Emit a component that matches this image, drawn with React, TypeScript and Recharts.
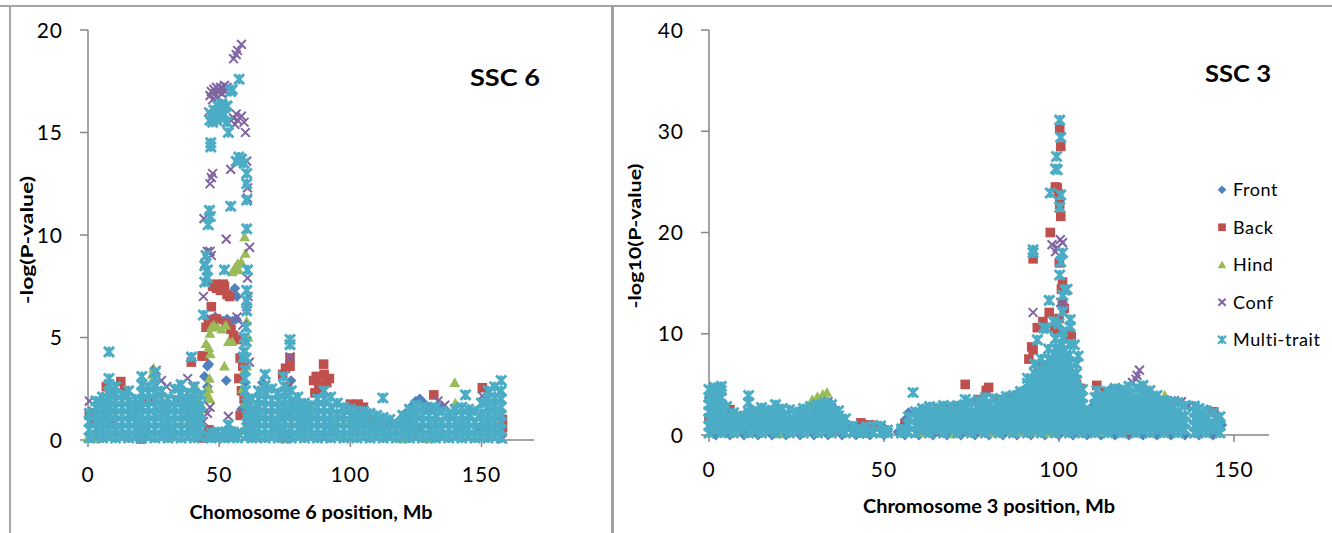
import React from "react";
import { ScatterChart, Scatter, XAxis, YAxis, Legend } from "recharts";

type Pt = [number, number];

const SERIES_NAMES = ["Front", "Back", "Hind", "Conf", "Multi-trait"];
const X_TICKS = [0, 50, 100, 150];
const Y_TICKS_SSC6 = [0, 5, 10, 15, 20];
const Y_TICKS_SSC3 = [0, 10, 20, 30, 40];

const COLORS = ["#4F81BD", "#C0504D", "#9BBB59", "#8064A2", "#4BACC6"];
const AXIS_GREY = "#868686";
const FONT = "Lato, 'Open Sans', sans-serif";

// ---------- SSC 6 (left panel), [position Mb, -log(P)] ----------
const front6: Pt[] = [
  [56, 7.4], [56.8, 7.0], [45.5, 5.9], [47, 5.9], [48.5, 6.0], [50, 5.9], [51.5, 5.8], [53, 5.9], [55, 5.8], [56.5, 5.9],
  [45.5, 3.6], [44.4, 3.1], [52.7, 2.9], [45.5, 2.6], [46, 3.7], [77.4, 2.9], [66.5, 2.8], [125, 1.9], [126.5, 2.0],
  [128, 1.8], [123, 1.6], [121, 1.3], [119, 1.0], [130, 1.6], [134, 1.7], [58.5, 1.5], [60, 2.8], [53.5, 0.6],
  [54.5, 0.5], [40, 1.8], [20, 1.5], [75, 1.2], [100, 1.0], [145, 1.4], [150, 0.5],
];

const back6: Pt[] = [
  [47.5, 7.5], [48.5, 7.6], [49, 7.4], [50.5, 7.3], [51.5, 7.6], [52, 7.5], [53, 7.1], [54, 7.0], [47, 6.5],
  [45, 5.5], [46, 5.8], [47.5, 5.6], [49, 5.9], [52.5, 5.7], [54.5, 5.4], [55.5, 5.1], [44, 4.1], [43.5, 4.1], [39.4, 3.8],
  [57, 4.9], [58, 4.0], [59, 3.6], [57.5, 3.0], [58.5, 2.4], [59.5, 2.0], [60.5, 1.6], [58, 1.2],
  [77, 3.6], [77, 4.0], [74.2, 3.2], [75.3, 3.5], [76, 2.6],
  [89.8, 3.7], [86, 2.9], [87, 3.1], [88, 2.7], [90, 3.2], [91, 2.8], [92, 3.0], [89, 2.5], [86.5, 2.3],
  [105, 1.6], [100, 1.75], [103, 1.75], [131.8, 2.2], [150.3, 2.55], [108, 1.0],
  [7, 2.6], [8.5, 2.3], [12.5, 2.85], [14, 2.4], [2, 1.0], [0.5, 1.2], [30, 1.5], [23, 2.0],
  [45, 0.3], [46, 0.5], [44, 0.1], [47.5, 0.2], [20, 0.05], [62, 0.3], [61, 1.0], [158, 0.6], [158, 1.0], [115, 0.8], [125, 0.5],
];

const hind6: Pt[] = [
  [59.7, 9.9], [60, 9.1], [55, 8.2], [56, 8.4], [57, 8.6], [58.4, 8.7], [57.5, 8.3],
  [45, 4.7], [46.5, 5.2], [47, 5.5], [48, 5.6], [49.5, 5.5], [51, 5.4], [52.5, 5.6], [53.5, 4.8], [55, 4.8], [46, 4.5],
  [46.6, 4.2], [52, 3.6], [46.3, 3.0], [45.5, 2.2], [46, 2.5], [46.5, 2.0], [45, 2.4], [44, 1.5],
  [60.5, 5.8], [61, 5.0], [60.5, 3.6], [59.5, 3.4], [59, 2.5], [60, 1.8], [61, 1.3],
  [54, 0.5], [56, 0.4], [57, 0.45], [55, 0.3],
  [139.8, 2.8], [140, 1.8], [25, 3.5], [24.5, 3.2], [36, 2.0], [41, 2.6], [40.5, 2.3], [42, 1.9],
  [0, 0.1], [3, 0.05], [31, 0.1], [62, 0.1], [130, 0.05], [132, 0.1], [75, 0.05], [120, 0.05],
];

const conf6: Pt[] = [
  [55.5, 18.6], [56.5, 18.8], [57, 19.0], [58.5, 19.3],
  [46.5, 16.8], [47, 17.0], [47.5, 16.6], [48, 17.1], [48.5, 16.9], [49, 17.2], [49.5, 16.7], [50, 17.0], [50.5, 17.2],
  [51, 16.9], [51.5, 17.1], [52, 17.3], [52.5, 17.0], [53, 17.2], [46, 16.0],
  [55.5, 15.7], [56, 15.4], [57, 15.6], [58.5, 15.8], [59.5, 15.5], [60, 15.0], [56.5, 15.9],
  [54.4, 13.2], [60.8, 12.3], [60.8, 11.8], [60.5, 13.6], [47.5, 13.0], [46.5, 12.5], [47, 12.8],
  [44.2, 10.8], [52.7, 9.8], [61.6, 9.4], [45.5, 9.2], [46.5, 9.2], [47, 9.0], [44.5, 8.6], [44, 7.0],
  [60.8, 7.9], [61, 7.0], [60.5, 6.5], [56.8, 6.0], [59, 5.6], [60.5, 4.8], [61.5, 3.8],
  [39.4, 4.0], [38, 3.0], [40, 2.6], [53.5, 1.15], [46.5, 1.6], [45.5, 1.3],
  [0.5, 1.9], [2, 1.4], [26, 3.4], [28, 2.9], [30, 2.6], [35, 1.8], [41, 1.5], [44, 0.9], [77, 4.05],
  [74, 0.2], [75, 0.3], [76, 0.15], [75.5, 0.05], [73.5, 0.25], [133.4, 1.9], [150.3, 2.15], [136, 1.7],
  [116, 0.3], [100, 0.2], [20, 0.1], [10, 0.8], [62, 0.5], [64, 0.1], [158, 0.05], [125, 0.15], [90, 0.1],
];

const multi6: Pt[] = [
  [0.5, 0.1], [0.5, 0.5], [0.5, 0.9], [0.5, 1.3],
  [3, 0.2], [3, 0.55], [3, 0.9], [3, 1.25], [3, 1.6], [3, 1.9],
  [5.5, 0.1], [5.5, 0.45], [5.5, 0.8], [5.5, 1.15], [5.5, 1.5], [5.5, 1.8], [5.5, 2.1],
  [8, 0.2], [8, 0.55], [8, 0.9], [8, 1.3], [8, 1.65], [8, 2.0], [8, 2.35], [8, 2.7], [8, 3.0], [8, 4.3],
  [10.5, 0.1], [10.5, 0.45], [10.5, 0.85], [10.5, 1.2], [10.5, 1.55], [10.5, 1.9], [10.5, 2.25], [10.5, 2.6],
  [13, 0.2], [13, 0.55], [13, 0.9], [13, 1.25], [13, 1.6], [13, 1.95], [13, 2.2],
  [15.5, 0.1], [15.5, 0.5], [15.5, 0.85], [15.5, 1.2], [15.5, 1.55], [15.5, 1.9], [15.5, 2.4],
  [18, 0.2], [18, 0.55], [18, 0.9], [18, 1.3], [18, 1.65], [18, 2.0],
  [20.5, 0.1], [20.5, 0.45], [20.5, 0.8], [20.5, 1.2], [20.5, 1.55], [20.5, 1.9], [20.5, 2.3], [20.5, 2.7], [20.5, 3.1],
  [23, 0.2], [23, 0.55], [23, 0.9], [23, 1.25], [23, 1.6], [23, 1.95], [23, 2.3], [23, 2.6],
  [25.5, 0.1], [25.5, 0.5], [25.5, 0.85], [25.5, 1.2], [25.5, 1.6], [25.5, 1.95], [25.5, 2.3], [25.5, 2.7], [25.5, 3.0], [25.5, 3.3],
  [28, 0.2], [28, 0.55], [28, 0.9], [28, 1.3], [28, 1.7], [28, 2.05], [28, 2.4],
  [30.5, 0.1], [30.5, 0.45], [30.5, 0.8], [30.5, 1.2], [30.5, 1.6], [30.5, 2.0],
  [33, 0.2], [33, 0.55], [33, 0.9], [33, 1.25], [33, 1.6], [33, 1.95], [33, 2.5],
  [35.5, 0.1], [35.5, 0.5], [35.5, 0.85], [35.5, 1.2], [35.5, 1.55], [35.5, 1.9], [35.5, 2.3], [35.5, 2.7],
  [38, 0.2], [38, 0.55], [38, 0.9], [38, 1.3], [38, 1.65], [38, 2.0], [38, 2.3], [39.4, 4.05],
  [40.5, 0.1], [40.5, 0.45], [40.5, 0.8], [40.5, 1.15], [40.5, 1.5], [40.5, 1.9], [40.5, 2.25], [40.5, 2.6],
  [43, 0.2], [43, 0.55], [43, 0.9], [43, 1.3], [43, 1.7], [43, 2.2],
  [45.5, 0.15], [47, 0.1], [47, 0.35], [49.5, 0.15], [49.5, 0.4], [52, 0.1], [52, 0.35], [53.5, 0.75],
  [54.5, 0.15], [54.5, 0.4], [57, 0.1], [57, 0.35],
  [44, 6.1], [44.5, 7.7], [44.5, 8.5], [45, 9.0], [45.5, 7.9], [45.5, 8.3], [45.8, 10.5], [46.3, 11.2], [46.6, 10.9],
  [46.8, 14.3], [46.8, 14.5], [46.5, 15.6], [46.8, 15.9], [47.5, 15.5], [47.5, 15.8], [48, 16.1], [49, 15.6], [49, 16.0],
  [49.5, 16.3], [50.5, 15.7], [50.5, 16.1], [51, 16.4], [52, 15.9], [52, 16.2], [52, 8.3], [53, 15.5], [53, 16.3],
  [53.5, 15.0], [54.4, 17.0], [54.4, 11.4], [55, 17.1], [57.6, 17.6], [56.5, 13.6], [57.5, 13.8], [58.5, 13.7],
  [59.5, 13.5], [60.5, 13.0], [60.5, 12.5], [60.5, 11.7], [60.5, 10.3], [60.8, 8.3], [60.5, 7.3], [60.5, 6.8],
  [60.5, 6.3], [60.3, 5.5], [60.3, 4.8], [60.3, 4.0], [60, 3.4], [59.5, 4.3], [59.5, 5.0], [59.8, 3.0], [60, 2.4],
  [59.2, 4.05], [60.5, 1.8], [60.5, 1.2], [60.5, 0.6], [60.5, 0.2], [61, 2.0], [61, 1.4], [61, 0.8], [61, 0.3],
  [62.5, 0.1], [62.5, 0.45], [62.5, 0.8], [62.5, 1.15], [62.5, 1.5], [62.5, 2.0],
  [65, 0.2], [65, 0.55], [65, 0.9], [65, 1.3], [65, 1.65], [65, 2.0], [65, 2.4],
  [67.5, 0.1], [67.5, 0.5], [67.5, 0.85], [67.5, 1.2], [67.5, 1.6], [67.5, 1.95], [67.5, 2.3], [67.5, 2.65], [67.5, 3.2],
  [70, 0.2], [70, 0.55], [70, 0.9], [70, 1.25], [70, 1.6], [70, 1.95], [70, 2.5],
  [72.5, 0.1], [72.5, 0.45], [72.5, 0.8], [72.5, 1.2], [72.5, 1.55], [72.5, 1.9], [72.5, 2.3],
  [75, 0.2], [75, 0.55], [75, 0.9], [75, 1.3], [75, 1.65], [75, 2.0], [75, 2.35], [75, 2.6], [74.5, 3.1],
  [77.5, 0.1], [77.5, 0.5], [77.5, 0.85], [77.5, 1.2], [77.5, 1.55], [77.5, 1.9], [77.5, 2.4], [77, 4.65], [77, 4.9],
  [80, 0.2], [80, 0.55], [80, 0.9], [80, 1.3], [80, 1.7], [80, 2.1],
  [82.5, 0.1], [82.5, 0.45], [82.5, 0.8], [82.5, 1.15], [82.5, 1.5], [82.5, 1.8],
  [85, 0.2], [85, 0.55], [85, 0.9], [85, 1.3], [85, 1.7],
  [87.5, 0.1], [87.5, 0.5], [87.5, 0.85], [87.5, 1.2], [87.5, 1.6], [87.5, 2.0],
  [90, 0.2], [90, 0.55], [90, 0.9], [90, 1.25], [90, 1.6], [90, 2.0], [90, 2.4],
  [92.5, 0.1], [92.5, 0.45], [92.5, 0.8], [92.5, 1.2], [92.5, 1.6], [92.5, 2.1],
  [95, 0.2], [95, 0.55], [95, 0.9], [95, 1.3], [95, 1.8],
  [97.5, 0.1], [97.5, 0.5], [97.5, 0.85], [97.5, 1.2], [97.5, 1.6],
  [100, 0.2], [100, 0.55], [100, 0.9], [100, 1.2], [100, 1.5],
  [102.5, 0.1], [102.5, 0.45], [102.5, 0.8], [102.5, 1.1], [102.5, 1.4],
  [105, 0.2], [105, 0.55], [105, 0.9], [105, 1.15], [105, 1.4],
  [107.5, 0.1], [107.5, 0.45], [107.5, 0.8], [107.5, 1.3],
  [110, 0.2], [110, 0.55], [110, 0.9], [110, 1.2],
  [112.5, 0.1], [112.5, 0.45], [112.5, 0.8], [112.5, 1.1], [112.4, 2.05],
  [115, 0.2], [115, 0.55], [115, 1.0],
  [117.5, 0.1], [117.5, 0.45], [117.5, 0.8],
  [120, 0.2], [120, 0.55], [120, 0.9], [120, 1.2],
  [122.5, 0.1], [122.5, 0.45], [122.5, 0.8], [122.5, 1.15], [122.5, 1.5],
  [125, 0.2], [125, 0.55], [125, 0.9], [125, 1.3], [125, 1.7],
  [127.5, 0.1], [127.5, 0.5], [127.5, 0.85], [127.5, 1.2], [127.5, 1.6],
  [130, 0.2], [130, 0.55], [130, 0.9], [130, 1.2], [130, 1.5],
  [132.5, 0.1], [132.5, 0.45], [132.5, 0.8], [132.5, 1.2], [132.5, 1.6],
  [135, 0.2], [135, 0.55], [135, 0.9], [135, 1.4],
  [137.5, 0.1], [137.5, 0.5], [137.5, 0.85], [137.5, 1.3],
  [140, 0.2], [140, 0.55], [140, 0.9], [140, 1.2], [140, 1.5],
  [142.5, 0.1], [142.5, 0.45], [142.5, 0.8], [142.5, 1.2], [142.5, 1.6], [143.9, 2.2],
  [145, 0.2], [145, 0.55], [145, 0.9], [145, 1.2], [145, 1.5],
  [147.5, 0.1], [147.5, 0.5], [147.5, 0.85], [147.5, 1.4],
  [150, 0.2], [150, 0.55], [150, 0.9], [150, 1.3], [150, 1.8],
  [152.5, 0.1], [152.5, 0.45], [152.5, 0.8], [152.5, 1.2], [152.5, 1.6], [152.5, 2.0], [152.5, 2.4],
  [155, 0.2], [155, 0.55], [155, 0.9], [155, 1.3], [155, 1.7], [155, 2.1], [155, 2.6],
  [157.5, 0.1], [157.5, 0.5], [157.5, 0.85], [157.5, 1.2], [157.5, 1.6], [157.5, 2.0], [157.5, 2.4], [157.5, 2.9],
];

// ---------- SSC 3 (right panel), [position Mb, -log10(P)] ----------
const front3: Pt[] = [
  [2, 0], [6, 0], [10, 0], [14, 0], [18, 0], [22, 0], [26, 0], [30, 0], [34, 0], [38, 0], [42, 0], [46, 0], [50, 0],
  [56, 0], [60, 0], [64, 0], [68, 0], [72, 0], [76, 0], [80, 0], [84, 0], [88, 0], [92, 0], [96, 0], [100, 0],
  [104, 0], [108, 0], [112, 0], [116, 0], [120, 0], [124, 0], [128, 0], [132, 0], [136, 0], [140, 0], [144, 0],
  [0, 3.7], [0.3, 3.8], [0.5, 3.5], [1, 3.0], [116.3, 4.5], [114.4, 4.4], [117, 4.6], [118, 4.3], [142.4, 2.5],
  [102.3, 3.0], [101, 3.2], [97, 6.8], [99, 7.0], [35, 3.0], [36, 2.5], [37, 2.0], [38, 1.6], [39, 1.2], [40, 0.8],
  [41, 0.5], [42, 0.3], [47, 0.9], [48, 1.0], [49, 0.9], [50, 0.7], [51, 0.4], [54, 0.3], [55, 0.8], [56, 1.5],
  [57, 2.2], [146, 1.5], [146.5, 1.0], [145, 2.0], [126, 4.0], [127, 3.6], [112, 3.5], [110, 3.0], [20, 2.6], [15, 2.5],
];

const back3: Pt[] = [
  [100.2, 30.2], [100.5, 28.5], [99, 24.5], [99.5, 24.4], [99.9, 23.8], [100.2, 22.8], [100.5, 21.6], [97.5, 20.0],
  [92.6, 17.4], [100.1, 17.0], [101, 15.1], [100.7, 14.4], [97.2, 12.1], [95.4, 11.2], [93.8, 10.6], [103, 10.0],
  [103.5, 9.7], [98.7, 10.7], [99.5, 10.4], [92.2, 8.7], [92.6, 8.4], [95.4, 6.7], [91.4, 7.5], [101, 13.0],
  [101.5, 12.5], [100, 11.5], [102, 7.0], [104, 6.0], [96, 5.5], [94, 4.5], [105, 5.0], [106, 4.6],
  [110.8, 4.9], [113.2, 4.2], [73.2, 5.0], [79.9, 4.7], [79.2, 4.4], [76.8, 3.5], [64, 2.3], [66, 2.6], [68, 2.5],
  [70, 2.7], [72, 2.4], [62, 2.2], [43.4, 1.2], [46, 1.0], [48, 0.9], [0, 1.7], [0.5, 1.3], [144.2, 2.3], [83, 3.5],
  [86, 3.7], [88, 3.9], [90, 4.1], [56, 1.0], [38, 1.0], [108, 2.0], [11, 2.0], [6, 2.5], [36, 0.5], [120, 0.3], [130, 0.5],
];

const hind3: Pt[] = [
  [29.5, 3.5], [31, 3.8], [32.5, 4.0], [33.7, 4.2], [30.5, 3.2], [28, 2.5], [27, 2.3], [26, 2.0], [8, 2.0], [9, 1.8], [10, 1.9],
  [94, 0.3], [94, 1.0], [95, 1.6], [96, 0.3], [96, 1.0], [96, 1.7], [97, 0.2], [97, 0.9], [97, 1.6], [97.5, 2.2],
  [98, 0.3], [98, 1.0], [98, 1.8], [99, 0.2], [99, 0.9], [99, 1.6], [99.5, 2.0], [96.5, 2.3], [98.5, 2.4],
  [130.2, 3.9], [87, 0.5], [88, 0.3], [91, 0.4], [112, 0.3], [80, 0.2], [20, 0.1], [60, 0.2], [70, 0.1],
];

const conf3: Pt[] = [
  [100.4, 19.3], [98, 18.8], [99, 18.1], [101, 19.0], [99.5, 18.5], [92.6, 12.1], [100.5, 13.1], [101, 12.8],
  [96, 5.5], [97, 6.0], [98, 6.8], [99, 7.5], [100, 8.0], [101.5, 7.0], [102, 6.2], [103, 5.0], [104, 4.2], [95, 4.0],
  [93, 5.0], [94, 6.3], [100, 4.5], [102, 3.0], [106, 3.5], [107, 2.0], [109, 1.8], [111, 2.4],
  [123, 6.4], [122.3, 5.9], [121, 5.2], [122, 5.5], [124, 4.5], [129.6, 3.4], [131, 3.3], [133, 3.4], [135, 3.3],
  [137, 2.9], [126, 3.8], [0.5, 0.3], [1, 0.6], [3, 3.0], [4, 2.6], [10, 1.8], [20, 1.9], [22, 2.0], [30, 2.4],
  [32, 3.0], [34, 3.3], [45, 0.3], [60, 0.5], [80, 3.0], [85, 1.0], [90, 0.5], [95, 0.3], [115, 0.5], [140, 0.4],
  [145, 0.2], [65, 0.2], [75, 0.4], [86, 0.6],
];

const multi3: Pt[] = [
  [0, 0.2], [0, 0.9], [0, 1.6], [0, 2.3], [0, 3.0], [0, 3.7], [0, 4.5],
  [1.5, 0.5], [1.5, 1.2], [1.5, 1.9], [1.5, 2.6], [1.5, 3.3], [1.5, 4.0], [1.5, 4.7],
  [3.5, 0.2], [3.5, 0.9], [3.5, 1.6], [3.5, 2.3], [3.5, 3.0], [3.5, 3.7], [3.5, 4.4], [3.5, 4.8],
  [5, 0.5], [5, 1.2], [5, 1.9], [5, 2.8], [7, 0.2], [7, 0.9], [7, 1.6], [7, 2.2], [9, 0.5], [9, 1.2], [9, 1.9],
  [11.3, 0.2], [11.3, 0.9], [11.3, 1.6], [11.3, 2.3], [11.3, 3.2], [11.3, 3.9],
  [13, 0.5], [13, 1.2], [13, 1.9], [13, 2.4], [15, 0.2], [15, 0.9], [15, 1.6], [15, 2.3], [15, 2.7],
  [17, 0.5], [17, 1.2], [17, 1.9], [17, 2.5], [19, 0.2], [19, 0.9], [19, 1.6], [19, 2.3], [19, 3.0],
  [21, 0.5], [21, 1.2], [21, 1.9], [21, 2.6], [23, 0.2], [23, 0.9], [23, 1.6], [23, 2.5],
  [25, 0.5], [25, 1.2], [25, 1.9], [25, 2.3], [27, 0.2], [27, 0.9], [27, 1.6], [27, 2.3], [27, 2.6],
  [29, 0.5], [29, 1.2], [29, 1.9], [29, 2.8], [31, 0.2], [31, 0.9], [31, 1.6], [31, 2.3], [31, 3.0],
  [33, 0.5], [33, 1.2], [33, 1.9], [33, 2.6], [33, 3.2], [35, 0.2], [35, 0.9], [35, 1.6], [35, 2.3], [35, 3.0],
  [37, 0.5], [37, 1.2], [37, 1.9], [37, 2.4], [39, 0.2], [39, 0.9], [39, 1.6], [41, 0.3], [41, 0.9],
  [43, 0.2], [43, 0.6], [45, 0.2], [45, 0.8], [47, 0.3], [47, 0.9], [49, 0.2], [49, 0.9], [51, 0.2], [51, 0.5],
  [55, 0.2], [55, 0.6], [57, 0.3], [57, 1.0], [57, 1.8], [58.3, 4.2],
  [59, 0.2], [59, 0.9], [59, 1.6], [59, 2.3], [61, 0.5], [61, 1.2], [61, 1.9], [61, 2.6],
  [63, 0.2], [63, 0.9], [63, 1.6], [63, 2.3], [63, 2.8], [65, 0.5], [65, 1.2], [65, 1.9], [65, 2.7],
  [67, 0.2], [67, 0.9], [67, 1.6], [67, 2.3], [67, 2.9], [69, 0.5], [69, 1.2], [69, 1.9], [69, 2.8],
  [71, 0.2], [71, 0.9], [71, 1.6], [71, 2.3], [71, 2.9], [73, 0.5], [73, 1.2], [73, 1.9], [73, 2.6], [73, 3.0], [73.2, 3.5],
  [75, 0.2], [75, 0.9], [75, 1.6], [75, 2.3], [75, 3.2], [77, 0.5], [77, 1.2], [77, 1.9], [77, 2.6], [77, 3.4],
  [79, 0.2], [79, 0.9], [79, 1.6], [79, 2.3], [79, 3.0], [79, 3.7], [81, 0.5], [81, 1.2], [81, 1.9], [81, 2.6], [81, 3.6],
  [83, 0.2], [83, 0.9], [83, 1.6], [83, 2.3], [83, 3.0], [83, 3.5], [85, 0.5], [85, 1.2], [85, 1.9], [85, 2.6], [85, 3.3], [85, 3.8],
  [87, 0.2], [87, 0.9], [87, 1.6], [87, 2.3], [87, 3.0], [87, 3.9],
  [89, 0.5], [89, 1.2], [89, 1.9], [89, 2.6], [89, 3.3], [89, 4.0], [89, 4.3],
  [91, 0.2], [91, 0.9], [91, 1.6], [91, 2.3], [91, 3.0], [91, 3.7], [91, 4.4], [91, 5.1], [91, 5.6],
  [93, 0.5], [93, 1.2], [93, 1.9], [93, 2.6], [93, 3.3], [93, 4.0], [93, 4.7], [93, 5.4], [93, 6.1], [93, 7.0],
  [92.6, 18.3], [92.6, 18.0], [93.8, 9.4],
  [95, 0.2], [95, 0.9], [95, 1.6], [95, 2.3], [95, 3.0], [95, 3.7], [95, 4.4], [95, 5.1], [95, 5.8], [95, 6.5], [95, 7.5], [95.6, 10.6],
  [97, 0.5], [97, 1.2], [97, 1.9], [97, 2.6], [97, 3.3], [97, 4.0], [97, 4.7], [97, 5.4], [97, 6.1], [97, 6.8], [97, 7.5], [97, 8.5],
  [97.2, 13.3], [97.5, 23.9], [96.5, 10.5],
  [99, 0.2], [99, 0.9], [99, 1.6], [99, 2.3], [99, 3.0], [99, 3.7], [99, 4.4], [99, 5.1], [99, 5.8], [99, 6.5], [99, 7.2],
  [99, 7.9], [99, 8.6], [99, 9.5], [99.3, 27.5], [99, 26.3], [99.5, 26.2], [98.5, 11.2],
  [101, 0.5], [101, 1.2], [101, 1.9], [101, 2.6], [101, 3.3], [101, 4.0], [101, 4.7], [101, 5.4], [101, 6.1], [101, 6.8],
  [101, 7.5], [101, 8.2], [101, 8.9], [101, 9.6], [101, 10.2], [100.2, 31.1], [100.5, 29.4], [100.5, 23.7], [100.2, 22.5],
  [101, 18.0], [100.5, 17.1], [100.2, 15.8], [101.7, 14.3], [102.3, 14.4], [101.1, 13.8], [101.1, 12.2], [100, 11.0],
  [103, 0.2], [103, 0.9], [103, 1.6], [103, 2.3], [103, 3.0], [103, 3.7], [103, 4.4], [103, 5.1], [103, 5.8], [103, 6.5],
  [103, 7.2], [103, 7.9], [103, 9.0], [103.2, 11.4], [103.2, 10.7], [104.4, 8.9],
  [105, 0.5], [105, 1.2], [105, 1.9], [105, 2.6], [105, 3.3], [105, 4.0], [105, 4.7], [105, 5.4], [105, 6.1], [105, 7.0], [105.5, 7.8],
  [106.7, 0.2], [106.7, 0.9], [106.7, 1.6], [106.7, 2.3], [106.7, 3.0], [106.7, 3.7], [106.7, 4.5],
  [108.5, 0.5], [108.5, 1.2], [108.5, 1.9], [108.5, 2.5],
  [110.3, 0.2], [110.3, 0.9], [110.3, 1.6], [110.3, 2.3], [110.3, 3.0], [110.3, 3.7], [110.8, 4.4],
  [112, 0.5], [112, 1.2], [112, 1.9], [112, 2.6], [112, 3.3], [112, 3.9],
  [114, 0.2], [114, 0.9], [114, 1.6], [114, 2.3], [114, 3.0], [114, 3.7], [114, 4.3],
  [116, 0.5], [116, 1.2], [116, 1.9], [116, 2.6], [116, 3.3], [116, 4.0], [116, 4.6],
  [118, 0.2], [118, 0.9], [118, 1.6], [118, 2.3], [118, 3.0], [118, 3.7], [118, 4.5],
  [120, 0.5], [120, 1.2], [120, 1.9], [120, 2.6], [120, 3.3], [120, 4.0], [120, 4.8],
  [122, 0.2], [122, 0.9], [122, 1.6], [122, 2.3], [122, 3.0], [122, 3.7], [122, 4.6],
  [124, 0.5], [124, 1.2], [124, 1.9], [124, 2.6], [124, 3.3], [124, 4.0], [124, 4.9],
  [126, 0.2], [126, 0.9], [126, 1.6], [126, 2.3], [126, 3.0], [126, 3.7], [126, 4.4],
  [128, 0.5], [128, 1.2], [128, 1.9], [128, 2.6], [128, 3.3], [128, 3.9],
  [130, 0.2], [130, 0.9], [130, 1.6], [130, 2.3], [130, 3.0], [130, 3.4],
  [132, 0.5], [132, 1.2], [132, 1.9], [132, 2.6], [132, 3.3], [134, 0.2], [134, 0.9], [134, 1.6], [134, 2.3], [134, 3.2],
  [136, 0.5], [136, 1.2], [136, 1.9], [136, 2.9], [138.7, 0.2], [138.7, 0.9], [138.7, 1.6], [138.7, 2.3], [138.7, 2.85],
  [140, 0.5], [140, 1.2], [140, 1.9], [140, 2.6], [142, 0.2], [142, 0.9], [142, 1.6], [142, 2.4],
  [144, 0.5], [144, 1.2], [144, 2.2], [146, 0.2], [146, 0.9], [146, 1.8],
];

const toRows = (pts: Pt[]) => pts.map(([x, y]) => ({ x, y }));

// ---------- marker shapes (k scales the marker, legend uses smaller ones) ----------
function Diamond({ cx, cy, fill, k = 1 }: any) {
  const r = 5.4 * k;
  return <path d={`M${cx},${cy - r}L${cx + r},${cy}L${cx},${cy + r}L${cx - r},${cy}Z`} fill={fill} />;
}
function Square({ cx, cy, fill, k = 1 }: any) {
  const r = 4.8 * k;
  return <rect x={cx - r} y={cy - r} width={2 * r} height={2 * r} fill={fill} />;
}
function Triangle({ cx, cy, fill, k = 1 }: any) {
  const r = 5.4 * k;
  return <path d={`M${cx},${cy - r}L${cx + r},${cy + r * 0.8}L${cx - r},${cy + r * 0.8}Z`} fill={fill} />;
}
function Cross({ cx, cy, fill, k = 1 }: any) {
  const r = 4.4 * k;
  return (
    <path
      d={`M${cx - r},${cy - r}L${cx + r},${cy + r}M${cx + r},${cy - r}L${cx - r},${cy + r}`}
      stroke={fill}
      strokeWidth={2}
      fill="none"
    />
  );
}
function Star({ cx, cy, fill, k = 1 }: any) {
  const r = 5 * k;
  return (
    <path
      d={`M${cx - r},${cy - r}L${cx + r},${cy + r}M${cx + r},${cy - r}L${cx - r},${cy + r}M${cx},${cy - r}L${cx},${cy + r}`}
      stroke={fill}
      strokeWidth={k < 1 ? 2.2 : 3}
      fill="none"
    />
  );
}
const SHAPES = [Diamond, Square, Triangle, Cross, Star];

function XTick({ x, y, payload }: any) {
  return (
    <text x={x} y={y} dy={15} textAnchor="middle" fontFamily={FONT} fontSize={21} letterSpacing={1} fill="#000">
      {payload.value}
    </text>
  );
}
function YTick({ x, y, payload }: any) {
  return (
    <text x={x} y={y} dy={7.5} textAnchor="end" fontFamily={FONT} fontSize={21} letterSpacing={1} fill="#000">
      {payload.value}
    </text>
  );
}

function LegendBox() {
  return (
    <svg width={130} height={190}>
      {SERIES_NAMES.map((name, i) => {
        const Shape = SHAPES[i];
        const cy = 18.75 + i * 37.5;
        return (
          <g key={name}>
            <Shape cx={8} cy={cy} fill={COLORS[i]} k={0.8} />
            <text x={19} y={cy + 6.4} fontFamily={FONT} fontSize={18} letterSpacing={0.6} fill="#000">
              {name}
            </text>
          </g>
        );
      })}
    </svg>
  );
}

interface PanelProps {
  width: number;
  yAxisWidth: number;
  xAxisHeight: number;
  rightMargin: number;
  xMax: number;
  yMax: number;
  yTicks: number[];
  series: Pt[][];
  xTitle: string;
  yTitle: string;
  tag: string;
  titles: {
    x: [number, number, number];
    y: [number, number, number];
    tag: [number, number, number];
  };
  legend?: boolean;
}

function Panel(p: PanelProps) {
  return (
    <ScatterChart
      width={p.width}
      height={533}
      margin={{ top: 30, right: p.rightMargin, bottom: 0, left: 0 }}
    >
      <XAxis
        type="number"
        dataKey="x"
        domain={[0, p.xMax]}
        ticks={X_TICKS}
        interval={0}
        height={p.xAxisHeight}
        axisLine={{ stroke: AXIS_GREY, strokeWidth: 1.5 }}
        tickLine={{ stroke: AXIS_GREY, strokeWidth: 1.5 }}
        tickSize={7}
        tickMargin={20}
        tick={<XTick />}
      />
      <YAxis
        type="number"
        dataKey="y"
        domain={[0, p.yMax]}
        ticks={p.yTicks}
        interval={0}
        width={p.yAxisWidth}
        axisLine={{ stroke: AXIS_GREY, strokeWidth: 1.5 }}
        tickLine={{ stroke: AXIS_GREY, strokeWidth: 1.5 }}
        tickSize={8}
        tickMargin={17}
        tick={<YTick />}
      />
      {p.series.map((pts, i) => (
        <Scatter
          key={SERIES_NAMES[i]}
          name={SERIES_NAMES[i]}
          data={toRows(pts)}
          fill={COLORS[i]}
          shape={SHAPES[i]}
          isAnimationActive={false}
        />
      ))}
      {p.legend && (
        <Legend
          layout="horizontal"
          align="center"
          verticalAlign="middle"
          content={() => <LegendBox />}
          wrapperStyle={{ left: 600, top: 171, width: 130 }}
        />
      )}
      <text
        x={p.titles.x[0]}
        y={p.titles.x[1]}
        textAnchor="middle"
        textLength={p.titles.x[2]}
        lengthAdjust="spacingAndGlyphs"
        fontFamily={FONT}
        fontWeight={700}
        fontSize={18}
        fill="#000"
      >
        {p.xTitle}
      </text>
      <text
        transform={`translate(${p.titles.y[0]},${p.titles.y[1]}) rotate(-90)`}
        textAnchor="middle"
        textLength={p.titles.y[2]}
        lengthAdjust="spacingAndGlyphs"
        fontFamily={FONT}
        fontWeight={700}
        fontSize={17}
        fill="#000"
      >
        {p.yTitle}
      </text>
      <text
        x={p.titles.tag[0]}
        y={p.titles.tag[1]}
        textAnchor="middle"
        textLength={p.titles.tag[2]}
        lengthAdjust="spacingAndGlyphs"
        fontFamily={FONT}
        fontWeight={700}
        fontSize={22}
        fill="#000"
      >
        {p.tag}
      </text>
    </ScatterChart>
  );
}

export default function App() {
  return (
    <div style={{ position: "absolute", left: 0, top: 0, width: 1332, height: 533, background: "#fff", overflow: "hidden" }}>
      <div style={{ position: "absolute", left: 0, top: 5, width: 1332, height: 2, background: "#a6a6a6" }} />
      <div style={{ position: "absolute", left: 9, top: 5, width: 2, height: 528, background: "#a6a6a6" }} />
      <div style={{ position: "absolute", left: 611, top: 5, width: 3, height: 528, background: "#a0a0a0" }} />
      <div style={{ position: "absolute", left: 0, top: 0 }}>
        <Panel
          width={612}
          yAxisWidth={88}
          xAxisHeight={93}
          rightMargin={78}
          xMax={170}
          yMax={20}
          yTicks={Y_TICKS_SSC6}
          series={[front6, back6, hind6, conf6, multi6]}
          xTitle="Chomosome 6 position, Mb"
          yTitle="-log(P-value)"
          tag="SSC 6"
          titles={{ x: [311, 519, 243], y: [33, 240, 128], tag: [505, 86, 70] }}
        />
      </div>
      <div style={{ position: "absolute", left: 614, top: 0 }}>
        <Panel
          width={718}
          yAxisWidth={95}
          xAxisHeight={98}
          rightMargin={63}
          xMax={160}
          yMax={40}
          yTicks={Y_TICKS_SSC3}
          series={[front3, back3, hind3, conf3, multi3]}
          xTitle="Chromosome 3 position, Mb"
          yTitle="-log10(P-value)"
          tag="SSC 3"
          titles={{ x: [375, 513, 252], y: [27, 236, 145], tag: [624, 82, 66] }}
          legend
        />
      </div>
    </div>
  );
}
